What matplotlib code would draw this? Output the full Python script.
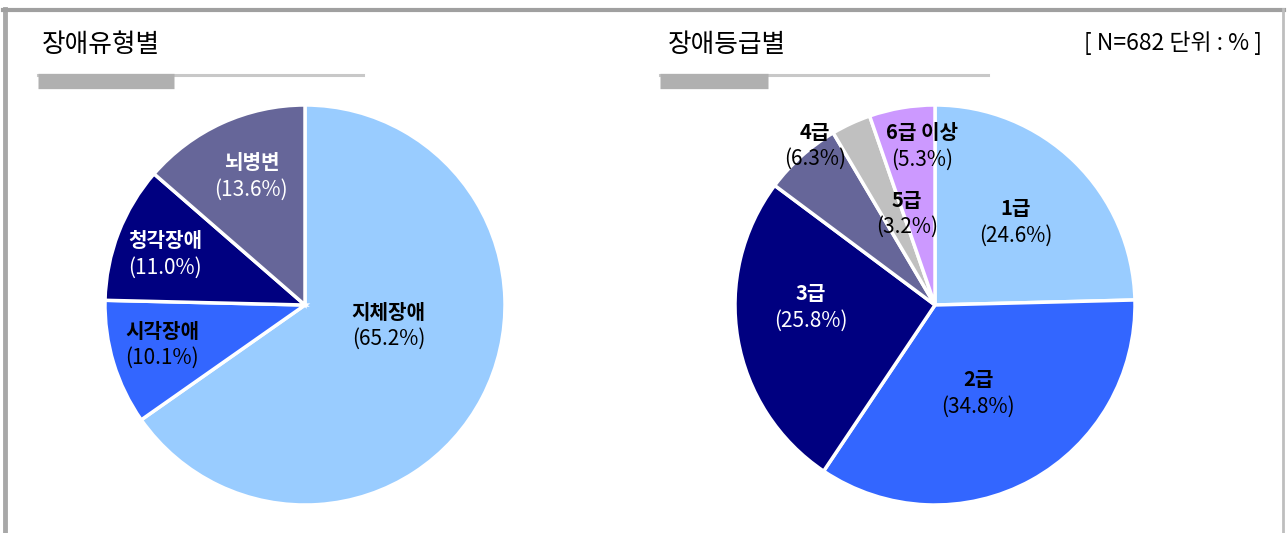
import numpy as np
import matplotlib
matplotlib.use("Agg")
import matplotlib.pyplot as plt
from matplotlib.lines import Line2D

plt.rcParams['font.family'] = ['Noto Sans CJK KR', 'DejaVu Sans']

# 장애유형별
type_labels = ['지체장애', '시각장애', '청각장애', '뇌병변']
type_values = [65.2, 10.1, 11.0, 13.6]
type_colors = ['#99CCFF', '#3366FF', '#000080', '#666699']
type_text = ['black', 'black', 'white', 'white']

# 장애등급별
grade_labels = ['1급', '2급', '3급', '4급', '5급', '6급 이상']
grade_values = [24.6, 34.8, 25.8, 6.3, 3.2, 5.3]
grade_colors = ['#99CCFF', '#3366FF', '#000080', '#666699', '#C0C0C0', '#CC99FF']
grade_text = ['black', 'black', 'white', 'black', 'black', 'black']

W, H = 1287, 533
fig = plt.figure(figsize=(W / 100, H / 100), dpi=100)


def px_axes(cx, cy, r):
    # axes square around a pie centre given in pixels (y from the top)
    return fig.add_axes([(cx - r) / W, (H - cy - r) / H, 2 * r / W, 2 * r / H])


def draw_pie(ax, values, colors, labels, text_colors, label_r, nudge):
    wedges, _ = ax.pie(values, colors=colors, startangle=90, counterclock=False,
                       wedgeprops=dict(edgecolor='white', linewidth=2.5))
    for w, lab, val, tc, r, d in zip(wedges, labels, values, text_colors, label_r, nudge):
        ang = np.deg2rad((w.theta1 + w.theta2) / 2 + d)
        x, y = r * np.cos(ang), r * np.sin(ang)
        ax.text(x, y + 0.065, lab, ha='center', va='center', fontsize=14.5,
                fontweight='bold', color=tc)
        ax.text(x, y - 0.07, '(%.1f%%)' % val, ha='center', va='center',
                fontsize=15, fontweight='light', color=tc)
    ax.set_xlim(-1.01, 1.01)
    ax.set_ylim(-1.01, 1.01)
    ax.set_aspect('equal')
    ax.axis('off')


ax1 = px_axes(305, 305, 202)
draw_pie(ax1, type_values, type_colors, type_labels, type_text,
         [0.43, 0.74, 0.745, 0.70], [14, -1.5, 1, -2])

ax2 = px_axes(935, 305, 202)
draw_pie(ax2, grade_values, grade_colors, grade_labels, grade_text,
         [0.58, 0.49, 0.62, 1.0, 0.48, 0.80], [0, -2.5, -9, -5, -8, -5])

# titles and underline bars
fig.text(42 / W, 1 - 45 / H, '장애유형별', fontsize=18.5, va='center', ha='left')
fig.text(668 / W, 1 - 45 / H, '장애등급별', fontsize=18.5, va='center', ha='left')
fig.text(1262 / W, 1 - 43 / H, '[ N=682 단위 : % ]', fontsize=16.5, va='center', ha='right')

for x0, x1, x2 in [(38, 174, 363), (660, 768, 988)]:
    fig.add_artist(Line2D([x0 / W, x2 / W], [1 - 75 / H] * 2, color='#C8C8C8', lw=2.2))
    fig.add_artist(Line2D([x0 / W, x1 / W], [1 - 80.5 / H] * 2, color='#B0B0B0', lw=11,
                          solid_capstyle='butt'))

# outer frame (open at the bottom)
fig.add_artist(Line2D([5 / W, 5 / W], [0, 1 - 9 / H], color='#A8A8A8', lw=3.5))
fig.add_artist(Line2D([3 / W, 1284 / W], [1 - 9.5 / H] * 2, color='#A0A0A0', lw=3))
fig.add_artist(Line2D([1282.5 / W, 1282.5 / W], [0, 1 - 9 / H], color='#BEBEBE', lw=2))

fig.savefig('out.png', dpi=100)
